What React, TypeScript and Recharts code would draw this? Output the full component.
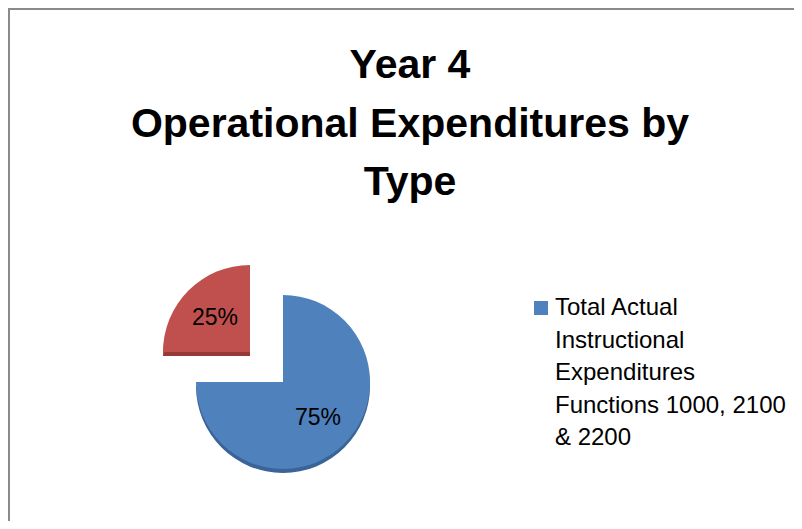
import React from 'react';
import { PieChart, Pie, Cell, Legend } from 'recharts';

const categories = [
  'Total Actual Instructional Expenditures Functions 1000, 2100 & 2200',
  'Other Operational Expenditures',
];
const values = [75, 25];
const colors = ['#4f81bd', '#c0504d'];
const edgeColors = ['#3a6497', '#963a38'];
const titleLines = ['Year 4', 'Operational Expenditures by', 'Type'];

const data = categories.map((name, i) => ({ name, value: values[i] }));

const RADIAN = Math.PI / 180;
const R = 87;
// blue slice sits at the centre, red one is pulled out up-left
const centres = [
  { cx: 273, cy: 372 },
  { cx: 240, cy: 342 },
];

const renderLabel = (only: number) => (props: any) => {
  const { cx, cy, midAngle, outerRadius, percent, index } = props;
  if (index !== only) return null;
  const r = outerRadius * 0.57;
  const x = cx + r * Math.cos(-midAngle * RADIAN);
  const y = cy + r * Math.sin(-midAngle * RADIAN);
  return (
    <text
      x={x}
      y={y}
      textAnchor="middle"
      dominantBaseline="central"
      fill="#000"
      fontSize={23}
      fontFamily="'Liberation Sans', Arial, sans-serif"
    >
      {`${Math.round(percent * 100)}%`}
    </text>
  );
};

const LegendBox = () => (
  <div
    style={{
      display: 'flex',
      alignItems: 'flex-start',
      fontFamily: "'Liberation Sans', Arial, sans-serif",
      fontSize: 24,
      lineHeight: '32.5px',
      color: '#000',
    }}
  >
    <div style={{ width: 14, height: 14, background: colors[0], marginTop: 10, flex: 'none' }} />
    <div style={{ marginLeft: 7, width: 240 }}>{categories[0]}</div>
  </div>
);

const App: React.FC = () => {
  return (
    <div
      style={{
        width: 792,
        height: 511,
        borderLeft: '2px solid #8a8a8a',
        borderTop: '2px solid #8a8a8a',
        background: '#fff',
      }}
    >
      <PieChart width={792} height={511} margin={{ top: 0, right: 0, bottom: 0, left: 0 }}>
        {titleLines.map((line, i) => (
          <text
            key={line}
            x={400}
            y={68 + i * 58.5}
            textAnchor="middle"
            fontSize={41}
            fontWeight="bold"
            fontFamily="'Liberation Sans', Arial, sans-serif"
            fill="#000"
          >
            {line}
          </text>
        ))}

        {[0, 1].map((k) => (
          <Pie
            key={`edge-${k}`}
            data={data}
            dataKey="value"
            nameKey="name"
            cx={centres[k].cx}
            cy={centres[k].cy + 4}
            outerRadius={R}
            startAngle={90}
            endAngle={-270}
            stroke="none"
            isAnimationActive={false}
            legendType="none"
          >
            {data.map((_, i) => (
              <Cell key={i} fill={i === k ? edgeColors[i] : 'transparent'} />
            ))}
          </Pie>
        ))}

        {[0, 1].map((k) => (
          <Pie
            key={`face-${k}`}
            data={data}
            dataKey="value"
            nameKey="name"
            cx={centres[k].cx}
            cy={centres[k].cy}
            outerRadius={R}
            startAngle={90}
            endAngle={-270}
            stroke="none"
            isAnimationActive={false}
            label={renderLabel(k)}
            labelLine={false}
          >
            {data.map((_, i) => (
              <Cell key={i} fill={i === k ? colors[i] : 'transparent'} />
            ))}
          </Pie>
        ))}

        <Legend
          content={() => <LegendBox />}
          wrapperStyle={{ position: 'absolute', left: 524, top: 281, width: 270 }}
        />
      </PieChart>
    </div>
  );
};

export default App;
